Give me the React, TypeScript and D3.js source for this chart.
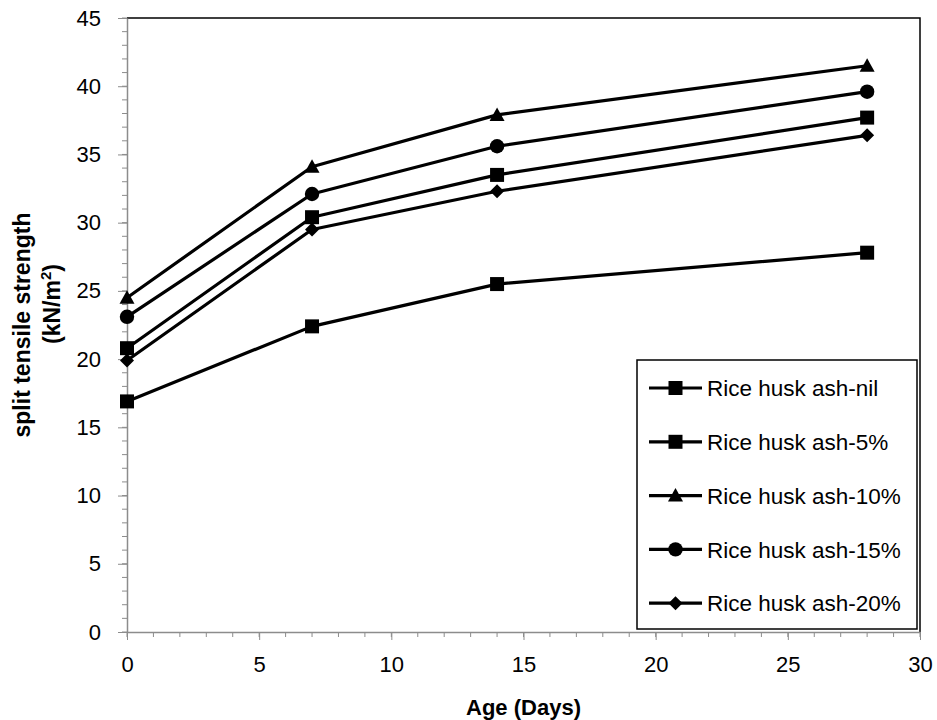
import { useEffect, useRef } from 'react'
import * as d3 from 'd3'

// age in days
const ages = [0, 7, 14, 28]

const seriesNames = [
  'Rice husk ash-nil',
  'Rice husk ash-5%',
  'Rice husk ash-10%',
  'Rice husk ash-15%',
  'Rice husk ash-20%'
]
const seriesMarkers = ['square', 'square', 'triangle', 'circle', 'diamond']

const rhaNil = [16.9, 22.4, 25.5, 27.8]
const rha5 = [20.8, 30.4, 33.5, 37.7]
const rha10 = [24.5, 34.1, 37.9, 41.5]
const rha15 = [23.1, 32.1, 35.6, 39.6]
const rha20 = [19.9, 29.5, 32.3, 36.4]
const seriesValues = [rhaNil, rha5, rha10, rha15, rha20]

const xTicks = [0, 5, 10, 15, 20, 25, 30]
const yTicks = [0, 5, 10, 15, 20, 25, 30, 35, 40, 45]

const FONT = '"Liberation Sans", Arial, sans-serif'

// marker path centred on 0,0
function markerPath(kind: string) {
  if (kind === 'square') return 'M-7,-7H7V7H-7Z'
  if (kind === 'triangle') return 'M0,-7.5L7.5,6L-7.5,6Z'
  if (kind === 'diamond') return 'M0,-7L7,0L0,7L-7,0Z'
  return d3.symbol(d3.symbolCircle, Math.PI * 7.2 * 7.2)() || ''
}

export default function App() {
  const svgRef = useRef<SVGSVGElement>(null)

  useEffect(() => {
    if (!svgRef.current) return
    const width = 937
    const height = 720
    const margin = { top: 18, right: 17, bottom: 88, left: 127 }
    const innerW = width - margin.left - margin.right
    const innerH = height - margin.top - margin.bottom

    const svg = d3.select(svgRef.current)
    svg.selectAll('*').remove()
    svg.attr('width', width).attr('height', height)

    const g = svg.append('g').attr('transform', `translate(${margin.left},${margin.top})`)

    const x = d3.scaleLinear().domain([0, 30]).range([0, innerW])
    const y = d3.scaleLinear().domain([0, 45]).range([innerH, 0])

    // plot frame (top + right)
    g.append('path')
      .attr('d', `M0,0H${innerW}V${innerH}`)
      .attr('fill', 'none')
      .attr('stroke', '#000')
      .attr('stroke-width', 1.5)

    // minor ticks
    const minorX = d3.range(0, 31, 1)
    const minorY = d3.range(0, 46, 1)
    g.append('g').selectAll('line').data(minorX).join('line')
      .attr('x1', d => x(d)).attr('x2', d => x(d))
      .attr('y1', innerH).attr('y2', innerH + 5)
      .attr('stroke', '#8c8c8c').attr('stroke-width', 1)
    g.append('g').selectAll('line').data(minorY).join('line')
      .attr('x1', -5).attr('x2', 0)
      .attr('y1', d => y(d)).attr('y2', d => y(d))
      .attr('stroke', '#8c8c8c').attr('stroke-width', 1)

    // X axis
    const xAxis = g.append('g')
      .attr('transform', `translate(0,${innerH})`)
      .call(d3.axisBottom(x).tickValues(xTicks).tickSize(8).tickPadding(16).tickSizeOuter(0))
    xAxis.select('.domain').attr('stroke', '#8c8c8c').attr('stroke-width', 1.5)
    xAxis.selectAll('.tick line').attr('stroke', '#8c8c8c')
    xAxis.selectAll('text').attr('font-family', FONT).attr('font-size', 22).attr('fill', '#000')

    // Y axis
    const yAxis = g.append('g')
      .call(d3.axisLeft(y).tickValues(yTicks).tickSize(9).tickPadding(17).tickSizeOuter(0))
    yAxis.select('.domain').attr('stroke', '#8c8c8c').attr('stroke-width', 1.5)
    yAxis.selectAll('.tick line').attr('stroke', '#8c8c8c')
    yAxis.selectAll('text').attr('font-family', FONT).attr('font-size', 22).attr('fill', '#000')

    // axis titles
    svg.append('text')
      .attr('x', margin.left + innerW / 2)
      .attr('y', 715)
      .attr('text-anchor', 'middle')
      .attr('font-family', FONT)
      .attr('font-weight', 'bold')
      .attr('font-size', 22)
      .text('Age (Days)')

    const yt = svg.append('g')
      .attr('transform', `translate(0,${margin.top + innerH / 2}) rotate(-90)`)
      .attr('font-family', FONT)
      .attr('font-weight', 'bold')
      .attr('font-size', 23)
    yt.append('text').attr('x', 0).attr('y', 30)
      .attr('text-anchor', 'middle')
      .text('split tensile strength')
    const unit = yt.append('text').attr('x', 21).attr('y', 60)
      .attr('text-anchor', 'middle')
    unit.append('tspan').text('(kN/m')
    unit.append('tspan').attr('font-size', 15).attr('dy', -9).text('2')
    unit.append('tspan').attr('dy', 9).text(')')

    // series
    const line = d3.line<number>()
      .x((_, i) => x(ages[i]))
      .y(d => y(d))

    seriesValues.forEach((vals, si) => {
      g.append('path')
        .datum(vals)
        .attr('fill', 'none')
        .attr('stroke', '#000')
        .attr('stroke-width', 3.2)
        .attr('stroke-linejoin', 'round')
        .attr('d', line)
      g.append('g').selectAll('path').data(vals).join('path')
        .attr('transform', (d, i) => `translate(${x(ages[i])},${y(d)})`)
        .attr('d', markerPath(seriesMarkers[si]))
        .attr('fill', '#000')
    })

    // legend
    const lg = svg.append('g')
    lg.append('rect')
      .attr('x', 637).attr('y', 360)
      .attr('width', 280).attr('height', 269)
      .attr('fill', '#fff')
      .attr('stroke', '#000')
      .attr('stroke-width', 1.5)
    seriesNames.forEach((name, i) => {
      const cy = 388 + i * 53.8
      lg.append('line')
        .attr('x1', 649).attr('x2', 702)
        .attr('y1', cy).attr('y2', cy)
        .attr('stroke', '#000').attr('stroke-width', 3.2)
      lg.append('path')
        .attr('transform', `translate(675.5,${cy})`)
        .attr('d', markerPath(seriesMarkers[i]))
        .attr('fill', '#000')
      lg.append('text')
        .attr('x', 707).attr('y', cy)
        .attr('dy', '0.36em')
        .attr('font-family', FONT)
        .attr('font-size', 22.5)
        .text(name)
    })
  }, [])

  return (
    <svg
      ref={svgRef}
      style={{ position: 'absolute', left: 0, top: 0, display: 'block', background: '#fff' }}
    />
  )
}
